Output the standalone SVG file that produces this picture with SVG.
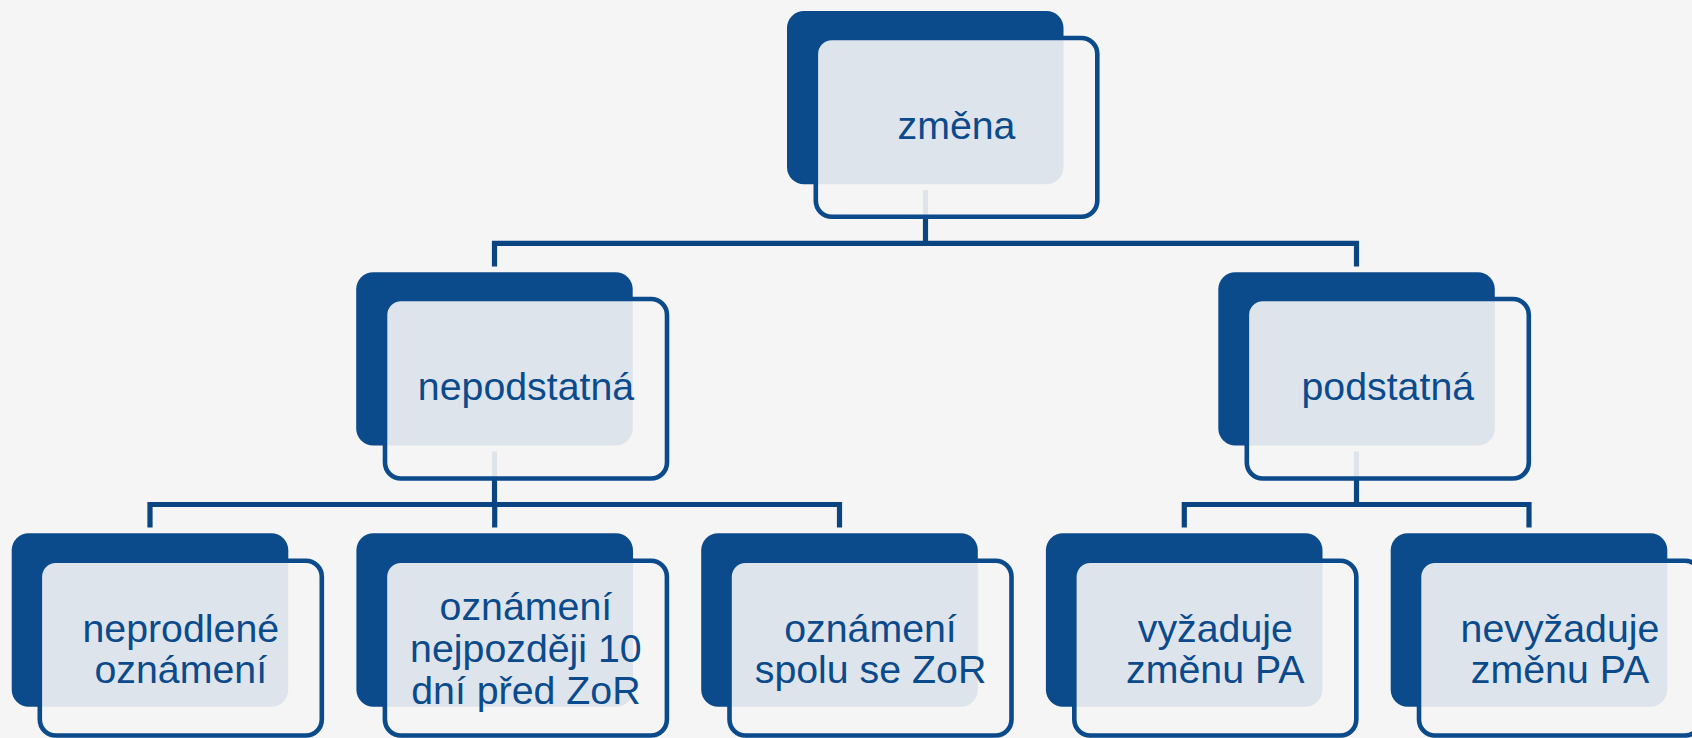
<svg xmlns="http://www.w3.org/2000/svg" width="1692" height="738" viewBox="0 0 1692 738">
  <style>
    .bg { fill: #f5f5f5; }
    .dark { fill: #0b4a8b; }
    .outline { fill: #f5f5f5; fill-opacity: 0.9; stroke: #0b4a8b; stroke-width: 4.6; }
    .lbl { font-family: "Liberation Sans", Arial, sans-serif; font-size: 39.3px; fill: #0b4a8b; text-anchor: middle; }
    .conn { fill: none; stroke: #0a4581; stroke-width: 5.2; stroke-linejoin: miter; stroke-linecap: butt; }
  </style>
  <rect class="bg" x="0" y="0" width="1692" height="738"/>

  <g id="connectors">
    <path class="conn" d="M925.5 190 V243.3"/>
    <path class="conn" d="M494.5 266.5 V243.3 H1356.5 V266.5"/>
    <path class="conn" d="M494.5 451.5 V504.5"/>
    <path class="conn" d="M150 527.5 V504.5 H839.5 V527.5"/>
    <path class="conn" d="M494.7 504.5 V527.5"/>
    <path class="conn" d="M1356.5 451.5 V504.5"/>
    <path class="conn" d="M1184.3 527.5 V504.5 H1529 V527.5"/>
  </g>

  <g id="node-zmena">
    <rect class="dark" x="787" y="11" width="276.5" height="173.3" rx="17"/>
    <rect class="outline" x="815.8" y="38" width="281.5" height="178.8" rx="16"/>
    <text class="lbl" x="956.5" y="139">změna</text>
  </g>

  <g id="node-nepodstatna">
    <rect class="dark" x="356.2" y="272.3" width="276.5" height="173.2" rx="17"/>
    <rect class="outline" x="385" y="299" width="282" height="179.5" rx="16"/>
    <text class="lbl" x="526" y="400">nepodstatná</text>
  </g>

  <g id="node-podstatna">
    <rect class="dark" x="1218.3" y="272.3" width="276.5" height="173.2" rx="17"/>
    <rect class="outline" x="1246.8" y="299" width="282" height="179.5" rx="16"/>
    <text class="lbl" x="1387.8" y="400">podstatná</text>
  </g>

  <g id="node-neprodlene">
    <rect class="dark" x="11.7" y="533.3" width="276.6" height="173.4" rx="17"/>
    <rect class="outline" x="39.8" y="560.7" width="282" height="174.8" rx="16"/>
    <text class="lbl" x="180.8" y="641.5">neprodlené</text>
    <text class="lbl" x="180.8" y="683.3">oznámení</text>
  </g>

  <g id="node-nejpozdeji">
    <rect class="dark" x="356.4" y="533.3" width="276.6" height="173.4" rx="17"/>
    <rect class="outline" x="384.9" y="560.7" width="282" height="174.8" rx="16"/>
    <text class="lbl" x="525.9" y="620">oznámení</text>
    <text class="lbl" x="525.9" y="661.8">nejpozději 10</text>
    <text class="lbl" x="525.9" y="703.6">dní před ZoR</text>
  </g>

  <g id="node-spolu">
    <rect class="dark" x="701.2" y="533.3" width="276.6" height="173.4" rx="17"/>
    <rect class="outline" x="729.5" y="560.7" width="282" height="174.8" rx="16"/>
    <text class="lbl" x="870.5" y="641.5">oznámení</text>
    <text class="lbl" x="870.5" y="683.3">spolu se ZoR</text>
  </g>

  <g id="node-vyzaduje">
    <rect class="dark" x="1045.9" y="533.3" width="276.6" height="173.4" rx="17"/>
    <rect class="outline" x="1074.3" y="560.7" width="282" height="174.8" rx="16"/>
    <text class="lbl" x="1215.3" y="641.5">vyžaduje</text>
    <text class="lbl" x="1215.3" y="683.3">změnu PA</text>
  </g>

  <g id="node-nevyzaduje">
    <rect class="dark" x="1390.7" y="533.3" width="276.6" height="173.4" rx="17"/>
    <rect class="outline" x="1419" y="560.7" width="282" height="174.8" rx="16"/>
    <text class="lbl" x="1560" y="641.5">nevyžaduje</text>
    <text class="lbl" x="1560" y="683.3">změnu PA</text>
  </g>
</svg>
